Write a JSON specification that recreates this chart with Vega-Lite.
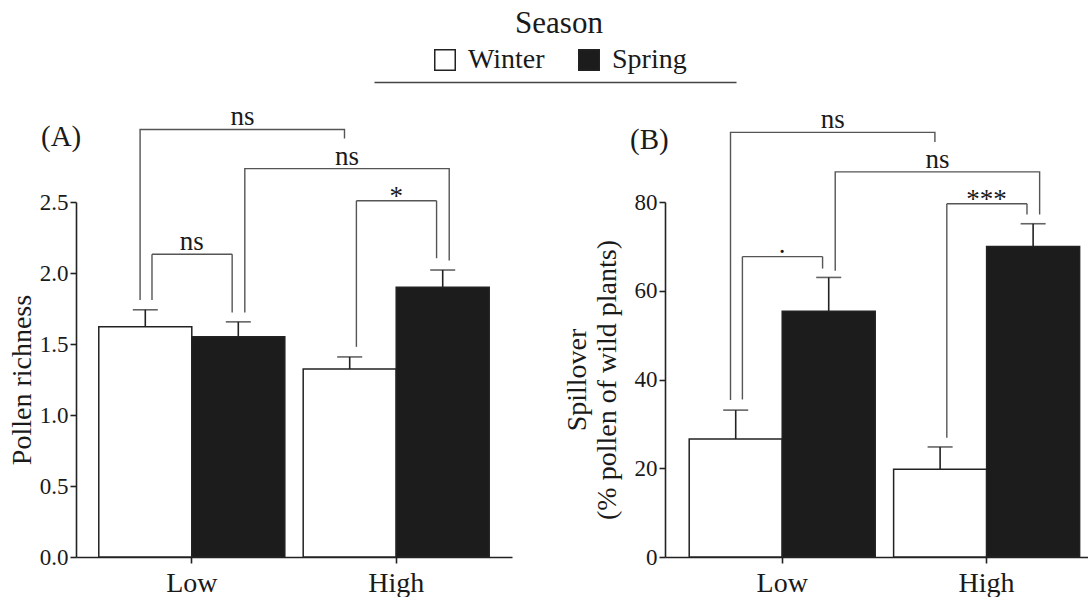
{
  "$schema": "https://vega.github.io/schema/vega-lite/v6.json",
  "background": "white",
  "padding": {"left": 8, "top": 9, "right": 0, "bottom": 0},
  "config": {
    "view": {"stroke": null},
    "font": "Liberation Serif",
    "axis": {
      "grid": false,
      "domainColor": "#222222",
      "domainWidth": 1.6,
      "tickColor": "#222222",
      "tickWidth": 1.6,
      "tickSize": 6,
      "labelFont": "Liberation Serif",
      "titleFont": "Liberation Serif",
      "labelColor": "#1a1a1a",
      "titleColor": "#1a1a1a",
      "titleFontWeight": "normal"
    },
    "legend": {"layout": {"top": {"anchor": "middle"}}, "titleFont": "Liberation Serif", "labelFont": "Liberation Serif"},
    "text": {"font": "Liberation Serif", "color": "#1a1a1a"}
  },
  "datasets": {
    "legend": [{"season": "Winter"}, {"season": "Spring"}],
    "barsA": [
      {"level": "Low", "season": "Winter", "mean": 1.621, "upper": 1.741},
      {"level": "Low", "season": "Spring", "mean": 1.551, "upper": 1.656},
      {"level": "High", "season": "Winter", "mean": 1.324, "upper": 1.409},
      {"level": "High", "season": "Spring", "mean": 1.899, "upper": 2.021}
    ],
    "pathA": [
      {"bracket": "winter", "level": "Low", "y": 1.809, "k": 1},
      {"bracket": "winter", "level": "Low", "y": 3.011, "k": 2},
      {"bracket": "winter", "level": "High", "y": 3.011, "k": 3},
      {"bracket": "winter", "level": "High", "y": 2.947, "k": 4},
      {"bracket": "spring", "level": "Low", "y": 1.722, "k": 1},
      {"bracket": "spring", "level": "Low", "y": 2.735, "k": 2},
      {"bracket": "spring", "level": "High", "y": 2.735, "k": 3},
      {"bracket": "spring", "level": "High", "y": 2.088, "k": 4}
    ],
    "withinA": [
      {"level": "Low", "label": "ns", "top": 2.132, "left": 1.809, "right": 1.722},
      {"level": "High", "label": "*", "top": 2.509, "left": 1.48, "right": 2.104}
    ],
    "betweenA": [
      {"comparison": "winter", "level": "Low", "label": "ns", "top": 3.011},
      {"comparison": "spring", "level": "High", "label": "ns", "top": 2.735}
    ],
    "barsB": [
      {"level": "Low", "season": "Winter", "mean": 26.6, "upper": 33.1},
      {"level": "Low", "season": "Spring", "mean": 55.4, "upper": 63.0},
      {"level": "High", "season": "Winter", "mean": 19.8, "upper": 24.8},
      {"level": "High", "season": "Spring", "mean": 70.0, "upper": 75.1}
    ],
    "pathB": [
      {"bracket": "winter", "level": "Low", "y": 35.4, "k": 1},
      {"bracket": "winter", "level": "Low", "y": 95.7, "k": 2},
      {"bracket": "winter", "level": "High", "y": 95.7, "k": 3},
      {"bracket": "winter", "level": "High", "y": 93.5, "k": 4},
      {"bracket": "spring", "level": "Low", "y": 64.5, "k": 1},
      {"bracket": "spring", "level": "Low", "y": 86.8, "k": 2},
      {"bracket": "spring", "level": "High", "y": 86.8, "k": 3},
      {"bracket": "spring", "level": "High", "y": 77.2, "k": 4}
    ],
    "withinB": [
      {"level": "Low", "label": ".", "top": 67.7, "left": 35.5, "right": 65.0},
      {"level": "High", "label": "***", "top": 79.6, "left": 26.9, "right": 77.2}
    ],
    "betweenB": [
      {"comparison": "winter", "level": "Low", "label": "ns", "top": 95.7},
      {"comparison": "spring", "level": "High", "label": "ns", "top": 86.8}
    ]
  },
  "resolve": {"scale": {"fill": "independent"}, "legend": {"fill": "independent"}},
  "center": false,
  "spacing": 21,
  "vconcat": [
    {
      "width": 966,
      "height": 0,
      "data": {"name": "legend"},
      "mark": {"type": "square", "size": 0, "filled": true, "opacity": 1, "stroke": "#222222", "strokeWidth": 1.5},
      "encoding": {
        "x": {"field": "season", "type": "nominal", "sort": ["Winter", "Spring"],
              "scale": {"range": [298, 660]},
              "axis": {"labels": false, "ticks": false, "title": null, "domainColor": "#444444", "domainWidth": 1.5}},
        "fill": {"field": "season", "type": "nominal",
                 "scale": {"domain": ["Winter", "Spring"], "range": ["#ffffff", "#1c1c1c"]},
                 "legend": {"title": "Season", "orient": "top", "direction": "horizontal",
                            "titleAnchor": "middle", "titleFont": "Liberation Serif", "titleFontSize": 31,
                            "titleFontWeight": "normal", "titleColor": "#1a1a1a", "titlePadding": 6,
                            "labelFont": "Liberation Serif", "labelFontSize": 28, "labelColor": "#1a1a1a",
                            "symbolType": "square", "symbolSize": 420, "symbolStrokeColor": "#222222",
                            "symbolOpacity": 1, "symbolStrokeWidth": 1.5, "labelOffset": 9, "columnPadding": 30, "offset": -12}}
      }
    },
    {
      "spacing": 51,
      "hconcat": [
        {
          "width": 436,
          "height": 355,
          "title": {"text": "(A)", "anchor": "start", "frame": "group", "orient": "top", "baseline": "alphabetic",
                    "offset": -72, "dx": -35, "fontSize": 29, "font": "Liberation Serif", "fontWeight": "normal", "color": "#1a1a1a"},
          "layer": [
            {
              "data": {"name": "barsA"},
              "mark": {"type": "bar", "stroke": "#222222", "strokeWidth": 1.5},
              "encoding": {
                "x": {"field": "level", "type": "nominal", "sort": ["Low", "High"],
                      "scale": {"domain": ["Low", "High"], "paddingInner": 0.09, "paddingOuter": 0.1115},
                      "axis": {"title": null, "labelAngle": 0, "labelFontSize": 28, "labelPadding": 6}},
                "xOffset": {"field": "season", "type": "nominal", "sort": ["Winter", "Spring"],
                            "scale": {"domain": ["Winter", "Spring"], "paddingInner": 0, "paddingOuter": 0}},
                "y": {"field": "mean", "type": "quantitative",
                      "scale": {"domain": [0, 2.5], "nice": false},
                      "axis": {"title": "Pollen richness", "values": [0, 0.5, 1, 1.5, 2, 2.5], "format": ".1f",
                               "labelFontSize": 23, "titleFontSize": 28, "labelPadding": 2, "titlePadding": 3}},
                "fill": {"field": "season", "type": "nominal",
                         "scale": {"domain": ["Winter", "Spring"], "range": ["#ffffff", "#1c1c1c"]}, "legend": null}
              }
            },
            {
              "data": {"name": "barsA"},
              "mark": {"type": "rule", "color": "#222222", "strokeWidth": 1.6},
              "encoding": {
                "x": {"field": "level", "type": "nominal", "sort": ["Low", "High"]},
                "xOffset": {"field": "season", "type": "nominal", "sort": ["Winter", "Spring"]},
                "y": {"field": "mean", "type": "quantitative"},
                "y2": {"field": "upper"}
              }
            },
            {
              "data": {"name": "barsA"},
              "mark": {"type": "tick", "orient": "horizontal", "size": 25, "thickness": 1.6, "color": "#222222"},
              "encoding": {
                "x": {"field": "level", "type": "nominal", "sort": ["Low", "High"]},
                "xOffset": {"field": "season", "type": "nominal", "sort": ["Winter", "Spring"]},
                "y": {"field": "upper", "type": "quantitative"}
              }
            },
            {
              "data": {"name": "pathA"},
              "transform": [{"filter": "datum.bracket === 'winter'"}],
              "mark": {"type": "line", "color": "#555555", "strokeWidth": 1.4},
              "encoding": {
                "x": {"field": "level", "type": "nominal", "sort": ["Low", "High"], "bandPosition": 0.222},
                "y": {"field": "y", "type": "quantitative"},
                "order": {"field": "k", "type": "quantitative"}
              }
            },
            {
              "data": {"name": "pathA"},
              "transform": [{"filter": "datum.bracket === 'spring'"}],
              "mark": {"type": "line", "color": "#555555", "strokeWidth": 1.4},
              "encoding": {
                "x": {"field": "level", "type": "nominal", "sort": ["Low", "High"], "bandPosition": 0.785},
                "y": {"field": "y", "type": "quantitative"},
                "order": {"field": "k", "type": "quantitative"}
              }
            },
            {
              "data": {"name": "withinA"},
              "mark": {"type": "rule", "color": "#555555", "strokeWidth": 1.4},
              "encoding": {
                "x": {"field": "level", "type": "nominal", "sort": ["Low", "High"], "bandPosition": 0.286},
                "y": {"field": "left", "type": "quantitative"},
                "y2": {"field": "top"}
              }
            },
            {
              "data": {"name": "withinA"},
              "mark": {"type": "rule", "color": "#555555", "strokeWidth": 1.4},
              "encoding": {
                "x": {"field": "level", "type": "nominal", "sort": ["Low", "High"], "bandPosition": 0.717},
                "y": {"field": "right", "type": "quantitative"},
                "y2": {"field": "top"}
              }
            },
            {
              "data": {"name": "withinA"},
              "mark": {"type": "rule", "color": "#555555", "strokeWidth": 1.4},
              "encoding": {
                "x": {"field": "level", "type": "nominal", "sort": ["Low", "High"], "bandPosition": 0.286},
                "x2": {"field": "level", "bandPosition": 0.717},
                "y": {"field": "top", "type": "quantitative"}
              }
            },
            {
              "data": {"name": "withinA"},
              "transform": [{"filter": "indexof(datum.label, '*') < 0"}],
              "mark": {"type": "text", "font": "Liberation Serif", "baseline": "alphabetic", "dy": -4, "fontSize": 27},
              "encoding": {
                "x": {"field": "level", "type": "nominal", "sort": ["Low", "High"], "bandPosition": 0.5},
                "y": {"field": "top", "type": "quantitative"},
                "text": {"field": "label"}
              }
            },
            {
              "data": {"name": "withinA"},
              "transform": [{"filter": "indexof(datum.label, '*') >= 0"}],
              "mark": {"type": "text", "font": "Liberation Serif", "baseline": "alphabetic", "dy": 4, "fontSize": 27},
              "encoding": {
                "x": {"field": "level", "type": "nominal", "sort": ["Low", "High"], "bandPosition": 0.5},
                "y": {"field": "top", "type": "quantitative"},
                "text": {"field": "label"}
              }
            },
            {
              "data": {"name": "betweenA"},
              "transform": [{"filter": "datum.comparison === 'winter'"}],
              "mark": {"type": "text", "font": "Liberation Serif", "baseline": "alphabetic", "dy": -4, "fontSize": 27},
              "encoding": {
                "x": {"field": "level", "type": "nominal", "sort": ["Low", "High"], "bandPosition": 0.772},
                "y": {"field": "top", "type": "quantitative"},
                "text": {"field": "label"}
              }
            },
            {
              "data": {"name": "betweenA"},
              "transform": [{"filter": "datum.comparison === 'spring'"}],
              "mark": {"type": "text", "font": "Liberation Serif", "baseline": "alphabetic", "dy": -4, "fontSize": 27},
              "encoding": {
                "x": {"field": "level", "type": "nominal", "sort": ["Low", "High"], "bandPosition": 0.236},
                "y": {"field": "top", "type": "quantitative"},
                "text": {"field": "label"}
              }
            }
          ]
        },
        {
          "width": 425,
          "height": 355,
          "title": {"text": "(B)", "anchor": "start", "frame": "group", "orient": "top", "baseline": "alphabetic",
                    "offset": -72, "dx": -35, "fontSize": 29, "font": "Liberation Serif", "fontWeight": "normal", "color": "#1a1a1a"},
          "layer": [
            {
              "data": {"name": "barsB"},
              "mark": {"type": "bar", "stroke": "#222222", "strokeWidth": 1.5},
              "encoding": {
                "x": {"field": "level", "type": "nominal", "sort": ["Low", "High"],
                      "scale": {"domain": ["Low", "High"], "paddingInner": 0.09, "paddingOuter": 0.0846, "align": 0.7},
                      "axis": {"title": null, "labelAngle": 0, "labelFontSize": 28, "labelPadding": 6}},
                "xOffset": {"field": "season", "type": "nominal", "sort": ["Winter", "Spring"],
                            "scale": {"domain": ["Winter", "Spring"], "paddingInner": 0, "paddingOuter": 0}},
                "y": {"field": "mean", "type": "quantitative",
                      "scale": {"domain": [0, 80], "nice": false},
                      "axis": {"title": ["Spillover", "(% pollen of wild plants)"], "values": [0, 20, 40, 60, 80],
                               "labelFontSize": 23, "titleFontSize": 28, "titleLineHeight": 30,
                               "labelPadding": 2, "titlePadding": 13}},
                "fill": {"field": "season", "type": "nominal",
                         "scale": {"domain": ["Winter", "Spring"], "range": ["#ffffff", "#1c1c1c"]}, "legend": null}
              }
            },
            {
              "data": {"name": "barsB"},
              "mark": {"type": "rule", "color": "#222222", "strokeWidth": 1.6},
              "encoding": {
                "x": {"field": "level", "type": "nominal", "sort": ["Low", "High"]},
                "xOffset": {"field": "season", "type": "nominal", "sort": ["Winter", "Spring"]},
                "y": {"field": "mean", "type": "quantitative"},
                "y2": {"field": "upper"}
              }
            },
            {
              "data": {"name": "barsB"},
              "mark": {"type": "tick", "orient": "horizontal", "size": 25, "thickness": 1.6, "color": "#222222"},
              "encoding": {
                "x": {"field": "level", "type": "nominal", "sort": ["Low", "High"]},
                "xOffset": {"field": "season", "type": "nominal", "sort": ["Winter", "Spring"]},
                "y": {"field": "upper", "type": "quantitative"}
              }
            },
            {
              "data": {"name": "pathB"},
              "transform": [{"filter": "datum.bracket === 'winter'"}],
              "mark": {"type": "line", "color": "#555555", "strokeWidth": 1.4},
              "encoding": {
                "x": {"field": "level", "type": "nominal", "sort": ["Low", "High"], "bandPosition": 0.222},
                "y": {"field": "y", "type": "quantitative"},
                "order": {"field": "k", "type": "quantitative"}
              }
            },
            {
              "data": {"name": "pathB"},
              "transform": [{"filter": "datum.bracket === 'spring'"}],
              "mark": {"type": "line", "color": "#555555", "strokeWidth": 1.4},
              "encoding": {
                "x": {"field": "level", "type": "nominal", "sort": ["Low", "High"], "bandPosition": 0.785},
                "y": {"field": "y", "type": "quantitative"},
                "order": {"field": "k", "type": "quantitative"}
              }
            },
            {
              "data": {"name": "withinB"},
              "mark": {"type": "rule", "color": "#555555", "strokeWidth": 1.4},
              "encoding": {
                "x": {"field": "level", "type": "nominal", "sort": ["Low", "High"], "bandPosition": 0.286},
                "y": {"field": "left", "type": "quantitative"},
                "y2": {"field": "top"}
              }
            },
            {
              "data": {"name": "withinB"},
              "mark": {"type": "rule", "color": "#555555", "strokeWidth": 1.4},
              "encoding": {
                "x": {"field": "level", "type": "nominal", "sort": ["Low", "High"], "bandPosition": 0.717},
                "y": {"field": "right", "type": "quantitative"},
                "y2": {"field": "top"}
              }
            },
            {
              "data": {"name": "withinB"},
              "mark": {"type": "rule", "color": "#555555", "strokeWidth": 1.4},
              "encoding": {
                "x": {"field": "level", "type": "nominal", "sort": ["Low", "High"], "bandPosition": 0.286},
                "x2": {"field": "level", "bandPosition": 0.717},
                "y": {"field": "top", "type": "quantitative"}
              }
            },
            {
              "data": {"name": "withinB"},
              "transform": [{"filter": "indexof(datum.label, '*') < 0"}],
              "mark": {"type": "text", "font": "Liberation Serif", "baseline": "alphabetic", "dy": -4, "fontSize": 27},
              "encoding": {
                "x": {"field": "level", "type": "nominal", "sort": ["Low", "High"], "bandPosition": 0.5},
                "y": {"field": "top", "type": "quantitative"},
                "text": {"field": "label"}
              }
            },
            {
              "data": {"name": "withinB"},
              "transform": [{"filter": "indexof(datum.label, '*') >= 0"}],
              "mark": {"type": "text", "font": "Liberation Serif", "baseline": "alphabetic", "dy": 4, "fontSize": 27},
              "encoding": {
                "x": {"field": "level", "type": "nominal", "sort": ["Low", "High"], "bandPosition": 0.5},
                "y": {"field": "top", "type": "quantitative"},
                "text": {"field": "label"}
              }
            },
            {
              "data": {"name": "betweenB"},
              "transform": [{"filter": "datum.comparison === 'winter'"}],
              "mark": {"type": "text", "font": "Liberation Serif", "baseline": "alphabetic", "dy": -4, "fontSize": 27},
              "encoding": {
                "x": {"field": "level", "type": "nominal", "sort": ["Low", "High"], "bandPosition": 0.772},
                "y": {"field": "top", "type": "quantitative"},
                "text": {"field": "label"}
              }
            },
            {
              "data": {"name": "betweenB"},
              "transform": [{"filter": "datum.comparison === 'spring'"}],
              "mark": {"type": "text", "font": "Liberation Serif", "baseline": "alphabetic", "dy": -4, "fontSize": 27},
              "encoding": {
                "x": {"field": "level", "type": "nominal", "sort": ["Low", "High"], "bandPosition": 0.236},
                "y": {"field": "top", "type": "quantitative"},
                "text": {"field": "label"}
              }
            }
          ]
        }
      ]
    }
  ]
}
